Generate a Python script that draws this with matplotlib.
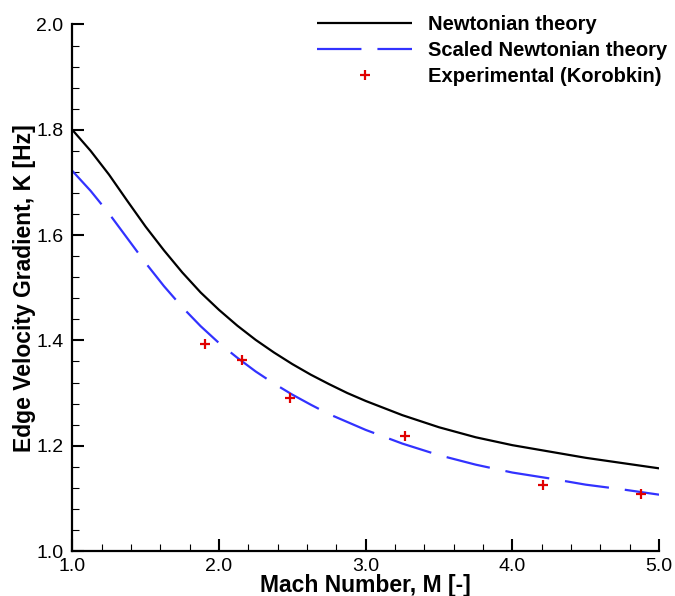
import matplotlib
matplotlib.use("Agg")
import matplotlib.pyplot as plt
from matplotlib.ticker import MultipleLocator, FormatStrFormatter

plt.rcParams['font.family'] = ['Liberation Sans', 'DejaVu Sans']
plt.rcParams['lines.scale_dashes'] = False

# Data
mach = [1.0, 1.125, 1.25, 1.375, 1.5, 1.625, 1.75, 1.875, 2.0, 2.125, 2.25, 2.375, 2.5,
        2.625, 2.75, 2.875, 3.0, 3.25, 3.5, 3.75, 4.0, 4.25, 4.5, 4.75, 5.0]
newtonian = [1.800, 1.760, 1.715, 1.665, 1.616, 1.571, 1.529, 1.491, 1.458, 1.428, 1.401,
             1.377, 1.355, 1.335, 1.317, 1.300, 1.285, 1.258, 1.235, 1.216, 1.201, 1.189,
             1.177, 1.167, 1.157]
scaled = [1.722, 1.684, 1.641, 1.594, 1.547, 1.503, 1.463, 1.427, 1.395, 1.367, 1.341,
          1.318, 1.297, 1.278, 1.260, 1.245, 1.230, 1.204, 1.182, 1.164, 1.149, 1.138,
          1.126, 1.117, 1.107]
exp_mach = [1.905, 2.155, 2.485, 3.265, 4.21, 4.875]
exp_k = [1.394, 1.362, 1.290, 1.218, 1.126, 1.109]

labels = ["Newtonian theory", "Scaled Newtonian theory", "Experimental (Korobkin)"]

fig = plt.figure(figsize=(6.75, 5.96), dpi=100)
ax = fig.add_axes([0.1071, 0.0755, 0.8693, 0.8834])

ax.plot(mach, newtonian, color='black', lw=1.6, label=labels[0], solid_capstyle='butt')
ax.plot(mach, scaled, color='#3232ff', lw=1.6, linestyle=(0, (32, 11.5)), label=labels[1],
        dash_capstyle='butt')
ax.plot(exp_mach, exp_k, linestyle='none', marker='+', color='#e00000', ms=7.2, mew=1.6,
        label=labels[2])

ax.set_xlim(1.0, 5.0)
ax.set_ylim(1.0, 2.0)
ax.xaxis.set_major_locator(MultipleLocator(1.0))
ax.xaxis.set_minor_locator(MultipleLocator(0.2))
ax.yaxis.set_major_locator(MultipleLocator(0.2))
ax.yaxis.set_minor_locator(MultipleLocator(0.04))
ax.xaxis.set_major_formatter(FormatStrFormatter('%.1f'))
ax.yaxis.set_major_formatter(FormatStrFormatter('%.1f'))

for s in ['top', 'right']:
    ax.spines[s].set_visible(False)
for s in ['left', 'bottom']:
    ax.spines[s].set_linewidth(1.6)

ax.tick_params(which='major', direction='in', length=8.4, width=1.5, labelsize=14)
ax.tick_params(which='minor', direction='in', length=5, width=0.8)
ax.tick_params(axis='x', which='major', pad=5.2)
ax.tick_params(axis='y', which='major', pad=6.5)

ax.set_xlabel("Mach Number, M [-]", fontsize=16.5, fontweight='bold')
ax.set_ylabel("Edge Velocity Gradient, K [Hz]", fontsize=16.5, fontweight='bold')
ax.xaxis.set_label_coords(0.5, -0.0437)
ax.yaxis.set_label_coords(-0.062, 0.5)

leg = fig.legend(loc='upper left', bbox_to_anchor=(0.470, 0.974), frameon=False,
                 borderpad=0, borderaxespad=0, handlelength=4.7, handletextpad=0.8,
                 labelspacing=0.34, prop={'size': 14.5, 'weight': 'bold'}, numpoints=1)

fig.savefig("out.png", dpi=100)
